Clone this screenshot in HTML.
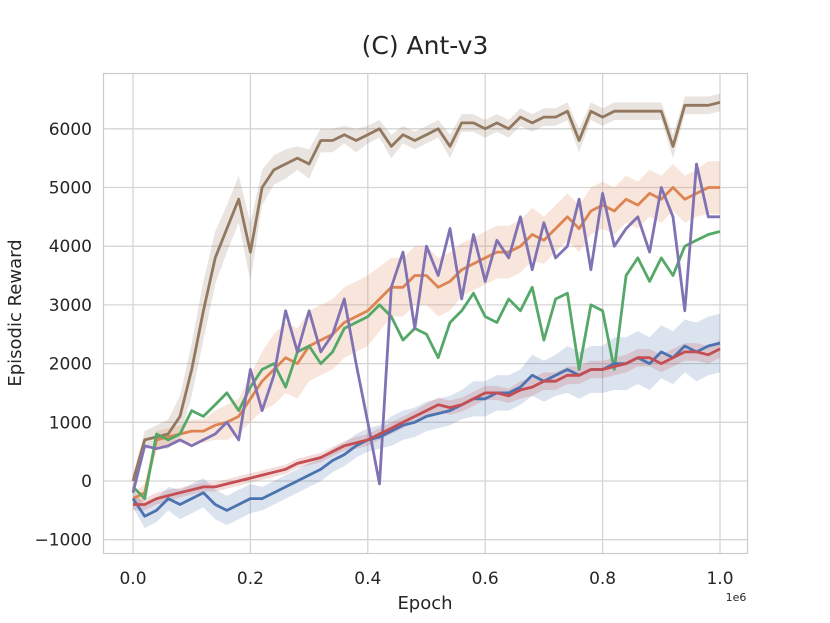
<!DOCTYPE html>
<html><head><meta charset="utf-8"><style>
body{margin:0;background:#fff;}
svg{display:block;font-family:"DejaVu Sans","Liberation Sans",sans-serif;}
</style></head><body>
<svg id="chart" width="830" height="623">
<text x="425" y="54" text-anchor="middle" font-size="25" fill="#262626">(C) Ant-v3</text>
<text x="425" y="609" text-anchor="middle" font-size="18" fill="#262626">Epoch</text>
<text x="736" y="601" text-anchor="middle" font-size="11" fill="#262626">1e6</text>
<text transform="translate(21,313) rotate(-90)" text-anchor="middle" font-size="18" fill="#262626">Episodic Reward</text>
<g id="grid"></g><g id="bands"></g><g id="lines"></g><g id="ticks"></g>
<rect x="103.5" y="73.5" width="644" height="480" fill="none" stroke="#cccccc" stroke-width="1.2"/>
</svg>
<script>
const epochs=[0,0.02,0.04,0.06,0.08,0.1,0.12,0.14,0.16,0.18,0.2,0.22,0.24,0.26,0.28,0.3,0.32,0.34,0.36,0.38,0.4,0.42,0.44,0.46,0.48,0.5,0.52,0.54,0.56,0.58,0.6,0.62,0.64,0.66,0.68,0.7,0.72,0.74,0.76,0.78,0.8,0.82,0.84,0.86,0.88,0.9,0.92,0.94,0.96,0.98,1.0];
const xTicks=[0,0.2,0.4,0.6,0.8,1.0];
const xTickLabels=["0.0","0.2","0.4","0.6","0.8","1.0"];
const yTicks=[-1000,0,1000,2000,3000,4000,5000,6000];
const yTickLabels=["\u22121000","0","1000","2000","3000","4000","5000","6000"];
const brown=[0,700,750,800,1100,1900,2900,3800,4300,4800,3900,5000,5300,5400,5500,5400,5800,5800,5900,5800,5900,6000,5700,5900,5800,5900,6000,5700,6100,6100,6000,6100,6000,6200,6100,6200,6200,6300,5800,6300,6200,6300,6300,6300,6300,6300,5700,6400,6400,6400,6450];
const brownSpread=[100,150,200,250,350,450,500,450,400,400,500,300,250,250,200,250,200,200,150,200,150,150,200,150,150,150,150,200,150,150,150,150,150,150,150,150,150,150,200,150,150,150,150,150,150,150,200,150,150,150,150];
const orange=[-300,-200,700,750,800,850,850,950,1000,1100,1400,1700,1900,2100,2000,2300,2400,2500,2700,2800,2900,3100,3300,3300,3500,3500,3300,3400,3600,3700,3800,3900,3900,4000,4200,4100,4300,4500,4300,4600,4700,4600,4800,4700,4900,4800,5000,4800,4900,5000,5000];
const orangeSpread=[100,150,150,150,150,200,200,250,300,300,400,500,600,600,600,600,600,600,600,600,600,550,500,500,500,500,500,500,450,450,450,450,450,450,450,400,400,400,400,400,400,400,400,400,400,400,400,400,400,450,450];
const green=[-100,-300,800,700,800,1200,1100,1300,1500,1200,1600,1900,2000,1600,2200,2300,2000,2200,2600,2700,2800,3000,2800,2400,2600,2500,2100,2700,2900,3200,2800,2700,3100,2900,3300,2400,3100,3200,1900,3000,2900,1900,3500,3800,3400,3800,3500,4000,4100,4200,4250];
const purple=[-200,600,550,600,700,600,700,800,1000,700,1900,1200,1800,2900,2200,2900,2200,2500,3100,2000,1000,-50,3300,3900,2600,4000,3500,4300,3100,4200,3400,4100,3800,4500,3600,4400,3800,4000,4800,3600,4900,4000,4300,4500,3900,5000,4500,2900,5400,4500,4500];
const blue=[-300,-600,-500,-300,-400,-300,-200,-400,-500,-400,-300,-300,-200,-100,0,100,200,350,450,600,700,750,850,950,1000,1100,1150,1200,1300,1400,1400,1500,1500,1600,1800,1700,1800,1900,1800,1900,1900,2000,2000,2100,2000,2200,2100,2300,2200,2300,2350];
const blueSpread=[150,200,200,200,250,250,250,250,250,250,250,200,200,200,200,200,200,200,200,200,200,200,250,250,250,250,250,250,250,300,300,300,300,300,350,350,350,400,400,400,400,450,450,450,450,450,450,450,500,500,500];
const red=[-400,-400,-300,-250,-200,-150,-100,-100,-50,0,50,100,150,200,300,350,400,500,600,650,700,800,900,1000,1100,1200,1300,1250,1300,1400,1500,1500,1450,1550,1600,1700,1700,1800,1800,1900,1900,1950,2000,2100,2100,2000,2100,2200,2200,2150,2250];
const redSpread=[100,100,100,100,80,80,80,80,80,80,80,80,80,80,80,80,80,80,80,100,100,100,100,100,100,120,120,120,120,120,120,120,120,150,150,150,150,150,150,150,150,150,150,150,150,150,150,150,150,150,150];

const NS="http://www.w3.org/2000/svg";
function sx(v){return 133+v*587;}
function sy(v){return 481-v*0.0587;}
function mk(tag,attrs,parent){const e=document.createElementNS(NS,tag);for(const k in attrs)e.setAttribute(k,attrs[k]);document.getElementById(parent).appendChild(e);return e;}

xTicks.forEach((t,i)=>{
  const g=mk('line',{x1:sx(t),x2:sx(t),y1:73,y2:553,stroke:'#d5d5d5','stroke-width':1.3},'grid');
  
  
  const l=mk('text',{x:sx(t),y:584,'text-anchor':'middle','font-size':17,fill:'#262626'},'ticks');
  l.textContent=xTickLabels[i];
  
  
});
yTicks.forEach((t,i)=>{
  const g=mk('line',{x1:103,x2:747,y1:sy(t),y2:sy(t),stroke:'#d5d5d5','stroke-width':1.3},'grid');
  
  
  const l=mk('text',{x:92,y:sy(t)+6,'text-anchor':'end','font-size':17,fill:'#262626'},'ticks');
  l.textContent=yTickLabels[i];
  
  
});
function band(vals,spread,color,name){
  let d='';
  vals.forEach((v,i)=>{d+=(i?'L':'M')+sx(epochs[i]).toFixed(1)+','+sy(v+spread[i]).toFixed(1);});
  for(let i=vals.length-1;i>=0;i--){d+='L'+sx(epochs[i]).toFixed(1)+','+sy(vals[i]-spread[i]).toFixed(1);}
  const p=mk('path',{d:d+'Z',fill:color,'fill-opacity':0.2,stroke:'none'},'bands');
  
  
}
function line(vals,color,name){
  let d='';
  vals.forEach((v,i)=>{d+=(i?'L':'M')+sx(epochs[i]).toFixed(1)+','+sy(v).toFixed(1);});
  const p=mk('path',{d:d,fill:'none',stroke:color,'stroke-width':2.8,'stroke-linejoin':'round'},'lines');
  
  
}
band(brown,brownSpread,'#937860','brown-band');
band(orange,orangeSpread,'#dd8452','orange-band');
band(blue,blueSpread,'#4c72b0','blue-band');
band(red,redSpread,'#c44e52','red-band');
line(brown,'#937860','brown-series');
line(orange,'#dd8452','orange-series');
line(green,'#55a868','green-series');
line(purple,'#8172b3','purple-series');
line(blue,'#4c72b0','blue-series');
line(red,'#c44e52','red-series');
</script>
</body></html>
